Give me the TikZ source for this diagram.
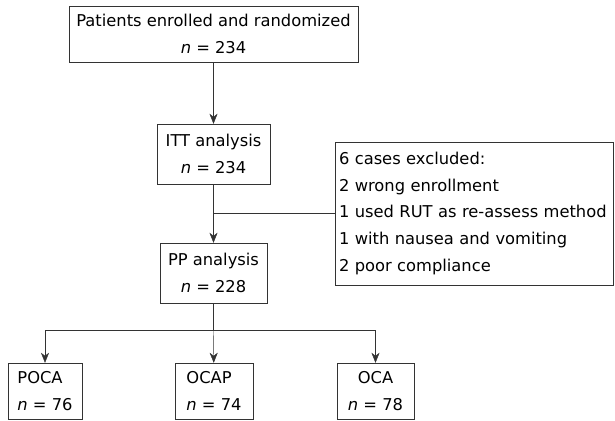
\documentclass[tikz,border=0pt]{standalone}
\usepackage{fontspec}
\setmainfont{DejaVu Sans}
\usetikzlibrary{arrows.meta}
\begin{document}
\begin{tikzpicture}[
        x=1pt, y=-1pt,
        every node/.style={font=\fontsize{16.3}{26.7}\selectfont},
        box/.style={rectangle, draw=black!80, inner sep=0pt, align=center},
        arrow/.style={-{Stealth[length=10pt,width=8pt,inset=3pt]}, draw=black!80}
    ]
        \useasboundingbox (0,0) rectangle (615,420);

        % Enrollment
        \node[box, minimum width=289pt, minimum height=56pt] (enrolled) at (213.5,34) {Patients enrolled and randomized\\\textit{n} = 234};
        \node[box, minimum width=113pt, minimum height=60pt] (itt) at (213.5,154) {ITT analysis\\\textit{n} = 234};
        \node[box, minimum width=107pt, minimum height=60pt] (pp) at (213.5,273) {PP analysis\\\textit{n} = 228};

        \draw[arrow] (enrolled) -- (itt);
        \draw[arrow] (itt) -- (pp);

        % Excluded
        \node[box, align=left, minimum width=278pt, minimum height=143pt, text width=270pt] (excluded) at (474,213.5) {6 cases excluded:\\2 wrong enrollment\\1 used RUT as re-assess method\\1 with nausea and vomiting\\2 poor compliance};
        \draw[draw=black!80] (excluded.west) -- (excluded.west -| itt.south);

        % Groups
        \node[box, align=left, minimum width=74pt, minimum height=56pt] (poca) at (45,391) {POCA\\\textit{n} = 76};
        \node[box, align=left, minimum width=78pt, minimum height=56pt] (ocap) at (214,391) {OCAP\\\textit{n} = 74};
        \node[box, minimum width=77pt, minimum height=56pt] (oca) at (375.5,391) {OCA\\\textit{n} = 78};
        \coordinate (split) at (213.5,330);

        \draw[draw=black!80] (pp) -- (split);
        \draw[arrow] (split) -| (poca);
        \draw[arrow] (split) -- (ocap);
        \draw[arrow] (split) -| (oca);
    \end{tikzpicture}
\end{document}
